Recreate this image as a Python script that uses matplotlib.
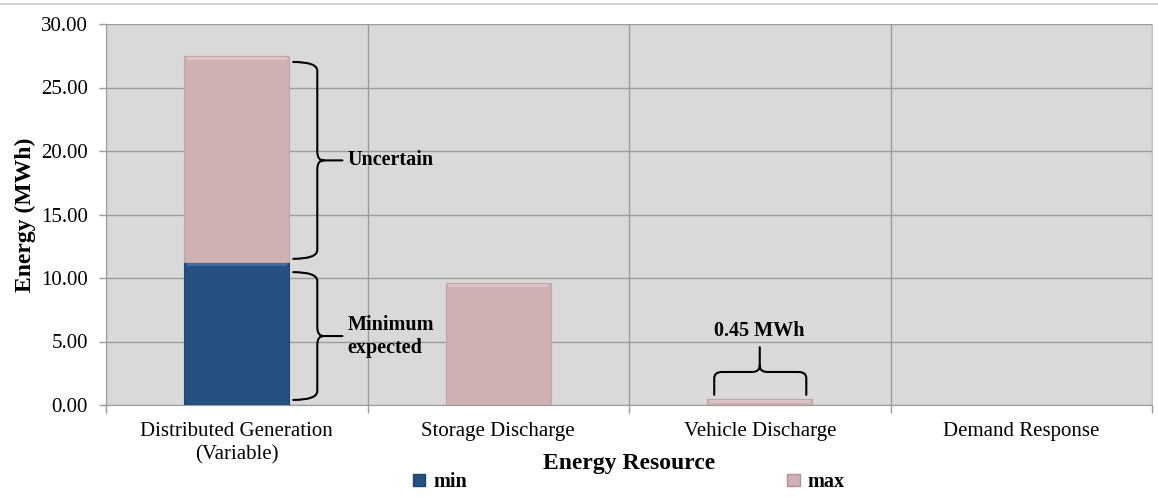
import matplotlib
matplotlib.use("Agg")
import matplotlib.pyplot as plt
from matplotlib.path import Path
from matplotlib.patches import PathPatch, Rectangle
from matplotlib.lines import Line2D
import numpy as np

# ---------------- data ----------------
categories = ["Distributed Generation\n(Variable)", "Storage Discharge",
              "Vehicle Discharge", "Demand Response"]
min_values = [11.26, 0.0, 0.0, 0.0]          # MWh
max_values = [16.20, 9.60, 0.45, 0.0]        # MWh (stacked on top of min)
yticks = [0, 5, 10, 15, 20, 25, 30]
series_names = ["min", "max"]

# ---------------- style ----------------
plt.rcParams['font.family'] = ['Liberation Serif', 'DejaVu Serif']
C_MIN = "#25507f"
C_MAX = "#cfb1b3"
BG = "#d9d9d9"
GRID = "#9c9c9c"
FS = 15

fig = plt.figure(figsize=(11.58, 4.97), dpi=100)
ax = fig.add_axes([106/1158, 1-405/497, (1152-106)/1158, (405-24)/497])
ax.set_facecolor(BG)

x = np.arange(len(categories))
w = 0.4
mins = np.array(min_values)
maxs = np.array(max_values)

ax.bar(x, mins, width=w, color=C_MIN, edgecolor="#1f4470",
       linewidth=[0.8 if v > 0 else 0 for v in mins], zorder=3)
ax.bar(x, maxs, width=w, bottom=mins, color=C_MAX, edgecolor="#c4a3a5",
       linewidth=[0.8 if v > 0 else 0 for v in maxs], zorder=3)
# bevel highlights at the top of each segment
for xi, b, h in zip(x, mins, mins):
    if h > 0:
        ax.bar(xi, 0.25, width=w*0.96, bottom=b-0.3, color="#3f6ca3", linewidth=0, zorder=4)
for xi, b, h in zip(x, mins, maxs):
    if h > 0.3:
        ax.bar(xi, 0.22, width=w*0.96, bottom=b+h-0.28, color="#dcc5c6", linewidth=0, zorder=4)

ax.set_xlim(-0.5, len(categories)-0.5)
ax.set_ylim(0, 30)
ax.set_yticks(yticks)
ax.set_yticklabels([f"{v:.2f}" for v in yticks], fontsize=FS)
ax.set_xticks(x)
ax.set_xticklabels(categories, fontsize=FS, linespacing=1.3)
ax.tick_params(axis='x', which='major', length=0, pad=12)
ax.set_xticks(np.arange(-0.5, len(categories)), minor=True)
ax.tick_params(axis='x', which='minor', length=6, color=GRID, width=1)
ax.tick_params(axis='y', length=5, color=GRID, width=1, pad=8)

ax.yaxis.grid(True, color=GRID, linewidth=1, zorder=1)
ax.xaxis.grid(True, which='minor', color=GRID, linewidth=1, zorder=1)
ax.set_axisbelow(True)
ax.spines["top"].set_visible(False)
ax.spines["right"].set_color("#c0c0c0")
ax.spines["left"].set_color(GRID)
ax.spines["bottom"].set_color(GRID)

ax.set_ylabel("Energy (MWh)", fontsize=17, fontweight="bold", labelpad=4)
ax.set_xlabel("Energy Resource", fontsize=17, fontweight="bold", labelpad=0)
ax.xaxis.set_label_coords(0.5, -0.125)

# ---------------- braces ----------------
def vbrace(ax, xc, top, bot, x_tip=0.216, x_sp=0.308, x_pt=0.404, r=0.7):
    xt, xs, xp = xc + x_tip, xc + x_sp, xc + x_pt
    ym = (top + bot) / 2
    verts = [(xt, top), (xs, top), (xs, top - r),
             (xs, ym + r), (xs, ym), (xs + 0.25*(xp-xs), ym),
             (xp, ym),
             (xs + 0.25*(xp-xs), ym), (xs, ym), (xs, ym - r),
             (xs, bot + r), (xs, bot), (xt, bot)]
    codes = [Path.MOVETO, Path.CURVE3, Path.CURVE3,
             Path.LINETO, Path.CURVE3, Path.CURVE3,
             Path.LINETO,
             Path.MOVETO, Path.CURVE3, Path.CURVE3,
             Path.LINETO, Path.CURVE3, Path.CURVE3]
    ax.add_patch(PathPatch(Path(verts, codes), fill=False, lw=1.5, color="black",
                           zorder=6, capstyle="round"))
    return xp, ym

def hbrace(ax, xc, left, right, y_tip, y_sp, y_pt, rx=0.03, ry=0.5):
    xl, xr = xc + left, xc + right
    verts = [(xl, y_tip), (xl, y_sp - ry), (xl, y_sp), (xl + rx, y_sp),
             (xc - rx, y_sp), (xc, y_sp), (xc, y_sp + ry), (xc, y_pt),
             (xr, y_tip), (xr, y_sp - ry), (xr, y_sp), (xr - rx, y_sp),
             (xc + rx, y_sp), (xc, y_sp), (xc, y_sp + ry)]
    codes = [Path.MOVETO, Path.LINETO, Path.CURVE3, Path.CURVE3,
             Path.LINETO, Path.CURVE3, Path.CURVE3, Path.LINETO,
             Path.MOVETO, Path.LINETO, Path.CURVE3, Path.CURVE3,
             Path.LINETO, Path.CURVE3, Path.CURVE3]
    ax.add_patch(PathPatch(Path(verts, codes), fill=False, lw=1.5, color="black",
                           zorder=6, capstyle="round"))

total0 = mins[0] + maxs[0]
xp, ym = vbrace(ax, x[0], total0 - 0.45, mins[0] + 0.25)
ax.text(xp + 0.02, ym, "Uncertain", fontsize=14.5, fontweight="bold",
        ha="left", va="center", zorder=7)
xp, ym = vbrace(ax, x[0], mins[0] - 0.8, 0.4)
ax.text(xp + 0.02, ym, "Minimum\nexpected", fontsize=14.5, fontweight="bold",
        ha="left", va="center", zorder=7, linespacing=1.2)

hbrace(ax, x[2], -0.174, 0.178, maxs[2] + 0.35, 2.6, 4.55)
ax.text(x[2], 5.05, f"{maxs[2]:.2f} MWh", fontsize=14.5, fontweight="bold",
        ha="center", va="bottom", zorder=7)

# ---------------- legend ----------------
handles = [Rectangle((0, 0), 1, 1, facecolor=C_MIN, edgecolor="#1f4470"),
           Rectangle((0, 0), 1, 1, facecolor=C_MAX, edgecolor="#b58f92")]
leg = fig.legend(handles, series_names, loc="center", bbox_to_anchor=(629/1158, 1-482/497),
                 ncol=2, frameon=False, handlelength=0.6, handleheight=0.6,
                 handletextpad=0.4, columnspacing=15.9,
                 prop={"size": 14.5, "weight": "bold"})

# top separator line
fig.add_artist(Line2D([0, 1], [1-4/497, 1-4/497], color="#c8c8c8", lw=1.2,
                      transform=fig.transFigure))

fig.savefig("out.png", dpi=100)
